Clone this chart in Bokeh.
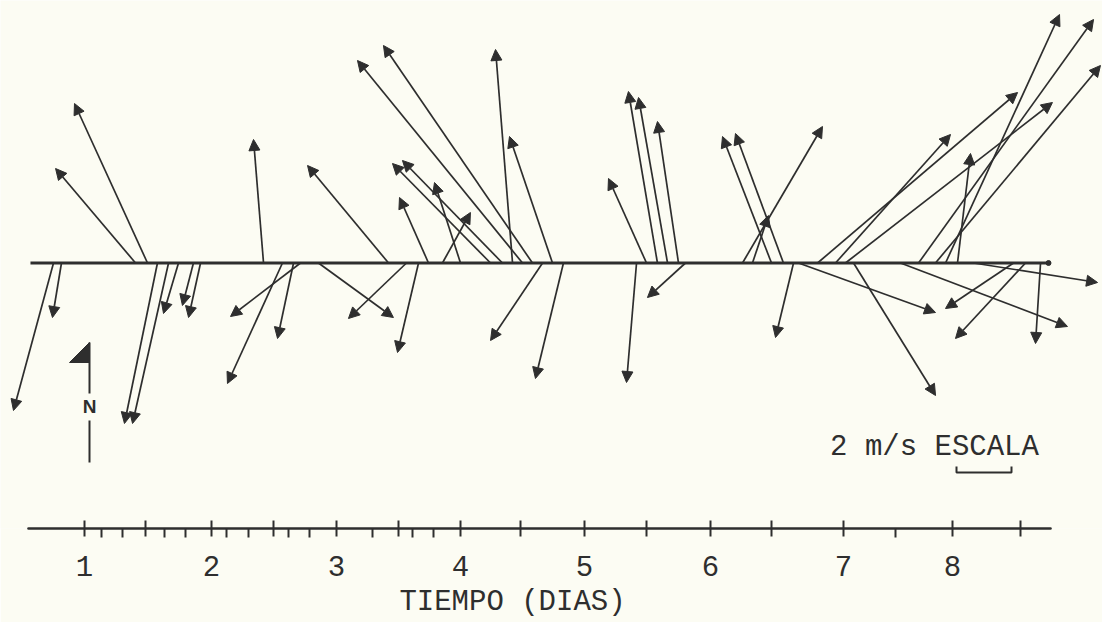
from bokeh.plotting import figure
from bokeh.models import ColumnDataSource, Arrow, NormalHead, FixedTicker, Label, Title
from bokeh.embed import file_html
from bokeh.resources import INLINE

# ---------------- data ----------------
# start time of each current vector (days) and its components (m/s, east / north)
time_days = [0.743, 0.807, 1.402, 1.498, 1.578, 1.667, 1.747, 1.867, 1.924, 2.430,
             2.582, 2.671, 2.727, 2.871, 3.434, 3.578, 3.675, 3.755, 3.867, 4.012,
             4.253, 4.349, 4.430, 4.510, 4.590, 4.671, 4.751, 4.839, 5.426, 5.506,
             5.594, 5.675, 5.763, 5.819, 6.277, 6.357, 6.510, 6.606, 6.687, 6.727,
             6.880, 7.024, 7.104, 7.169, 7.546, 7.691, 7.827, 7.908, 8.004, 8.133,
             8.454, 8.550, 8.671]
u_ms = [-1.455, -0.327, -2.909, -2.655, -1.200, -1.309, -0.545, -0.400, -0.436, -0.364,
        -2.000, -0.582, -2.545, 2.727, -2.945, -2.109, -0.764, -1.055, 1.018, -0.945,
        -3.564, -3.636, -0.618, -6.000, -5.418, -1.891, -1.564, -1.018, -0.364, -1.382,
        -1.055, -1.055, -0.764, -1.382, 2.909, 0.582, -1.782, -1.745, -0.655, 4.982,
        7.273, 4.182, 7.527, 2.982, 6.073, 6.364, 6.000, 4.145, 0.473, 4.509,
        -2.473, -2.545, -0.182]
v_ms = [-5.364, -1.982, 3.436, 5.800, -5.836, -5.836, -1.836, -1.545, -1.982, 4.491,
        -4.382, -2.745, -1.945, -1.982, 3.545, -2.018, -3.255, 2.382, 1.836, 2.927,
        3.618, 3.727, 7.764, 7.364, 7.909, -2.818, 4.600, -4.200, -4.345, 3.073,
        6.236, 6.018, 5.145, -1.255, 4.964, 1.727, 4.600, 4.709, -2.709, -1.800,
        6.200, 4.673, 5.836, -4.818, -2.309, 8.855, 7.182, 9.036, 3.982, -0.709,
        -1.655, -2.745, -2.927]

# hand-drawn time axis (days)
labeled_ticks = [0.992, 2.012, 3.016, 4.012, 5.008, 6.020, 7.088, 7.964]
tick_labels = ["1", "2", "3", "4", "5", "6", "7", "8"]
unlabeled_ticks = [1.482, 2.510, 3.514, 4.494, 5.506, 6.510, 8.510]
minor_ticks = [1.129, 1.297, 1.635, 1.803, 2.133, 2.309, 2.631, 2.799, 3.305,
               3.627, 3.795, 7.506]
axis_span = [0.542, 8.751]
baseline_span = [0.558, 8.735]
scale_ms = 2.0

# ---------------- geometry / style ----------------
PX_PER_DAY = 124.5
PX_PER_MS = 27.5
DAY_PER_MS = PX_PER_MS / PX_PER_DAY
INK = "#2e2e2e"
PAPER = "#fcfcf3"
FONT = "Liberation Mono"


def day(px):
    return 1 + (px - 85) / PX_PER_DAY


def ms(py):
    return (262.5 - py) / PX_PER_MS


x0 = list(time_days)
y0 = [0.0] * len(time_days)
x1 = [t + u * DAY_PER_MS for t, u in zip(time_days, u_ms)]
y1 = list(v_ms)
src = ColumnDataSource(dict(x0=x0, y0=y0, x1=x1, y1=y1))

p = figure(frame_width=1102, frame_height=528,
           x_range=(day(0), day(1102)), y_range=(ms(528), ms(0)),
           output_backend="svg", toolbar_location=None,
           y_axis_location=None, x_axis_location="below",
           min_border_left=0, min_border_right=0, min_border_top=0,
           min_border_bottom=94)
p.background_fill_color = PAPER
p.border_fill_color = PAPER
p.outline_line_color = None
p.xgrid.visible = False
p.ygrid.visible = False

# baseline
p.segment(x0=[baseline_span[0]], y0=[0], x1=[baseline_span[1]], y1=[0],
          line_color=INK, line_width=3.2)
p.scatter(x=[baseline_span[1]], y=[0], size=5, color=INK)

# vectors
p.add_layout(Arrow(end=NormalHead(size=11, fill_color=INK, line_color=INK, line_width=1),
                   x_start="x0", y_start="y0", x_end="x1", y_end="y1",
                   source=src, line_color=INK, line_width=1.7))

# time axis
ax = p.xaxis[0]
ax.bounds = tuple(axis_span)
ax.ticker = FixedTicker(ticks=labeled_ticks + unlabeled_ticks, minor_ticks=minor_ticks)
overrides = {t: lab for t, lab in zip(labeled_ticks, tick_labels)}
overrides.update({t: "" for t in unlabeled_ticks})
ax.major_label_overrides = overrides
ax.axis_line_color = INK
ax.axis_line_width = 2.6
ax.axis_line_cap = "round"
ax.major_tick_in = 8
ax.major_tick_out = 8
ax.major_tick_line_color = INK
ax.major_tick_line_width = 2
ax.minor_tick_in = 0
ax.minor_tick_out = 9
ax.minor_tick_line_color = INK
ax.minor_tick_line_width = 2
ax.major_label_standoff = 18
ax.major_label_text_font = FONT
ax.major_label_text_font_size = "29px"
ax.major_label_text_color = INK
ax.axis_label = None

# axis title
title_text = "TIEMPO (DIAS)"
title_left = 512 - len(title_text) * 0.6 * 29 / 2
p.add_layout(Title(text=title_text, align="left", offset=title_left, standoff=11,
                   text_font=FONT, text_font_size="29px", text_font_style="normal",
                   text_color=INK), "below")

# north symbol
nx = day(89)
p.segment(x0=[nx, nx], y0=[ms(342), ms(420)], x1=[nx, nx], y1=[ms(393), ms(462)],
          line_color=INK, line_width=2)
p.patch(x=[day(69), nx, nx], y=[ms(362), ms(342), ms(362)], color=INK)
p.add_layout(Label(x=nx, y=ms(406), text="N", text_font="Liberation Sans",
                   text_font_style="bold", text_font_size="19px", text_color=INK,
                   text_align="center", text_baseline="middle"))

# scale
sx0 = day(956)
sx1 = sx0 + scale_ms * DAY_PER_MS
p.line(x=[sx0, sx0, sx1, sx1], y=[ms(466), ms(472), ms(472), ms(466)],
       line_color=INK, line_width=2)
p.add_layout(Label(x=day(934), y=ms(447), text="2 m/s ESCALA", text_font=FONT,
                   text_font_size="29px", text_color=INK, text_align="center",
                   text_baseline="alphabetic"))

open("out.html", "w").write(file_html(p, INLINE))
